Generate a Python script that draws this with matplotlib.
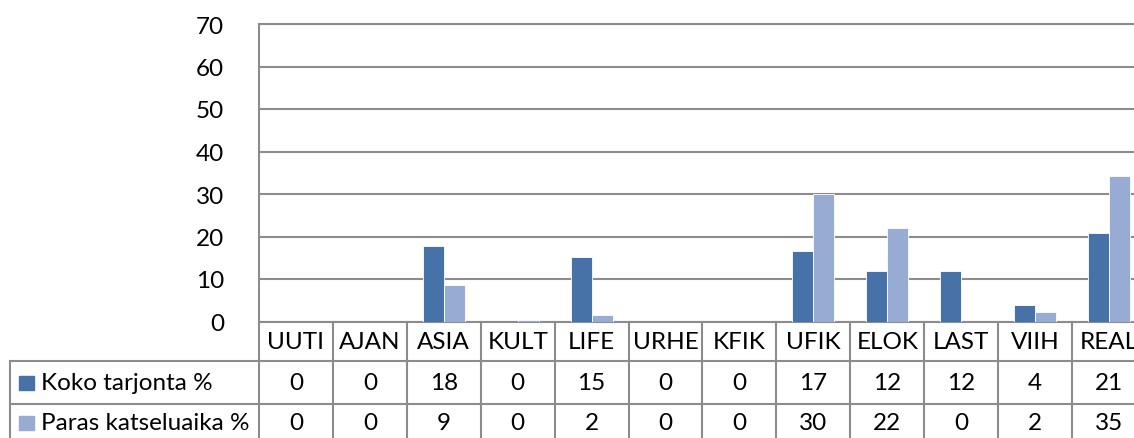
import matplotlib
matplotlib.use("Agg")
import matplotlib.pyplot as plt
from matplotlib.transforms import blended_transform_factory
from matplotlib.patches import Rectangle

# categories and the two series (bar heights, table shows rounded values)
categories = ["UUTI", "AJAN", "ASIA", "KULT", "LIFE", "URHE", "KFIK", "UFIK", "ELOK", "LAST", "VIIH", "REAL"]
koko = [0, 0, 17.7, 0, 15.2, 0, 0, 16.5, 11.8, 11.8, 3.9, 20.9]
paras = [0, 0, 8.5, 0.3, 1.5, 0, 0, 30.0, 22.1, 0, 2.3, 34.3]
koko_table = ["0", "0", "18", "0", "15", "0", "0", "17", "12", "12", "4", "21"]
paras_table = ["0", "0", "9", "0", "2", "0", "0", "30", "22", "0", "2", "35"]
series_names = ["Koko tarjonta %", "Paras katseluaika %"]

dark = "#4672a8"
light = "#97abd3"
grid_col = "#8c8c8c"

plt.rcParams['font.family'] = ['Lato', 'DejaVu Sans']

W, H = 1134, 439
fig = plt.figure(figsize=(W / 100, H / 100), dpi=100)
ax = fig.add_axes([259 / W, (H - 322.5) / H, 887 / W, 297.5 / H])

n = len(categories)
bw = 0.285
x = list(range(n))
ax.bar([i - bw / 2 for i in x], koko, width=bw, color=dark, edgecolor="white", linewidth=0.6, zorder=3)
ax.bar([i + bw / 2 for i in x], paras, width=bw, color=light, edgecolor="white", linewidth=0.6, zorder=3)

ax.set_xlim(-0.5, n - 0.5)
ax.set_ylim(0, 70)
ax.set_yticks(range(0, 71, 10))
ax.set_xticks([])
ax.tick_params(axis="y", length=0, pad=25, labelsize=17.5)
ax.yaxis.grid(True, color=grid_col, linewidth=1.5, zorder=0)
for s in ["left", "bottom", "top"]:
    ax.spines[s].set_color(grid_col)
    ax.spines[s].set_linewidth(1.5)
ax.spines["right"].set_visible(False)

# data table below the axis
tr = blended_transform_factory(ax.transData, fig.transFigure)
fy = lambda py: 1 - py / H
row_top, row1, row2, row_bot = 322.5, 362, 405, 448
line_kw = dict(color=grid_col, linewidth=1.5, clip_on=False)

for i in range(n + 1):
    ax.plot([i - 0.5, i - 0.5], [fy(row_top), fy(row_bot)], transform=tr, **line_kw)
for py in [row1, row2]:
    fig.add_artist(plt.Line2D([10 / W, 1.05], [fy(py), fy(py)], transform=fig.transFigure, **line_kw))
fig.add_artist(plt.Line2D([10 / W, 10 / W], [fy(row1), fy(row_bot)], transform=fig.transFigure, **line_kw))

tsize = 17.5
for i, c in enumerate(categories):
    ax.text(i, fy((row_top + row1) / 2), c, transform=tr, ha="center", va="center", fontsize=tsize, clip_on=False)
    ax.text(i, fy((row1 + row2) / 2), koko_table[i], transform=tr, ha="center", va="center", fontsize=tsize, clip_on=False)
    ax.text(i, fy((row2 + row_bot) / 2 - 3), paras_table[i], transform=tr, ha="center", va="center", fontsize=tsize, clip_on=False)

for name, col, (a, b) in zip(series_names, [dark, light], [(row1, row2), (row2, row_bot - 6)]):
    cy = (a + b) / 2
    fig.add_artist(Rectangle((19 / W, fy(cy + 7)), 15 / W, 14 / H, transform=fig.transFigure, color=col))
    fig.text(41 / W, fy(cy), name, ha="left", va="center", fontsize=tsize)

fig.savefig("out.png", dpi=100)
